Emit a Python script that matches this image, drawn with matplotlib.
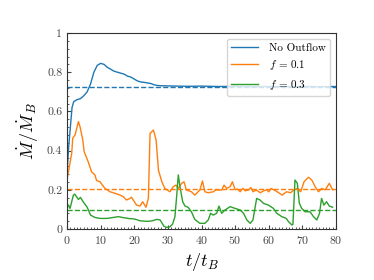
import matplotlib
matplotlib.use('Agg')
import matplotlib.pyplot as plt
from matplotlib.ticker import MultipleLocator

plt.rcParams['font.family'] = 'serif'
plt.rcParams['font.serif'] = ['cmr10']
plt.rcParams['mathtext.fontset'] = 'cm'
plt.rcParams['axes.formatter.use_mathtext'] = True
plt.rcParams['axes.unicode_minus'] = False

# No outflow
t_blue = [0, 0.5, 1, 1.5, 2, 3, 4, 5, 6, 7, 8, 9, 10, 11, 12, 13, 14, 15, 16, 17,
          18, 19, 20, 21, 22, 23, 24, 25, 26, 27, 28, 30, 33, 36, 40, 45, 50, 55,
          60, 65, 70, 75, 80]
m_blue = [0.28, 0.42, 0.52, 0.62, 0.65, 0.66, 0.665, 0.68, 0.70, 0.74, 0.80, 0.835,
          0.845, 0.84, 0.825, 0.815, 0.805, 0.80, 0.795, 0.79, 0.78, 0.775, 0.765,
          0.755, 0.75, 0.748, 0.745, 0.742, 0.735, 0.732, 0.731, 0.73, 0.729, 0.728,
          0.729, 0.727, 0.728, 0.726, 0.727, 0.726, 0.727, 0.726, 0.727]

# f = 0.1
t_orange = [0, 1.4, 1.7, 2.4, 3.4, 3.9, 4.7, 5.1, 6.3, 7.3, 8.3, 8.8, 9.8, 11.3, 12.8,
            14.3, 15.8, 16.7, 17.7, 18.6, 19.2, 19.7, 20.7, 21.7, 22.5, 23.5, 24.2,
            24.7, 25.7, 26.5, 27.2, 28.2, 29.1, 30.6, 31.6, 32.4, 33.1, 34.1, 34.8,
            35.5, 37.0, 38.0, 39.5, 40.3, 41.0, 42.0, 43.5, 44.3, 45.0, 46.0, 46.7,
            47.5, 48.5, 49.2, 50.0, 50.7, 51.5, 52.3, 53.0, 54.0, 54.7, 55.3, 56.3,
            57.5, 58.5, 59.3, 60.0, 60.7, 61.5, 62.5, 64.0, 65.3, 66.5, 67.5, 68.5,
            69.5, 70.5, 71.8, 72.8, 73.8, 74.8, 75.8, 76.8, 78.0, 79.0]
m_orange = [0.25, 0.386, 0.463, 0.48, 0.548, 0.52, 0.454, 0.395, 0.343, 0.292, 0.276,
            0.247, 0.241, 0.207, 0.19, 0.182, 0.173, 0.165, 0.148, 0.155, 0.162, 0.148,
            0.122, 0.117, 0.139, 0.111, 0.156, 0.488, 0.505, 0.454, 0.30, 0.241, 0.207,
            0.19, 0.216, 0.224, 0.207, 0.233, 0.241, 0.199, 0.19, 0.173, 0.199, 0.245,
            0.19, 0.185, 0.19, 0.20, 0.199, 0.199, 0.224, 0.207, 0.216, 0.241, 0.20,
            0.204, 0.19, 0.207, 0.195, 0.199, 0.212, 0.19, 0.199, 0.185, 0.195, 0.20,
            0.19, 0.207, 0.20, 0.19, 0.173, 0.19, 0.185, 0.199, 0.207, 0.19, 0.241,
            0.264, 0.25, 0.216, 0.19, 0.207, 0.20, 0.233, 0.20]

# f = 0.3
t_green = [0, 0.9, 1.9, 2.3, 3.4, 4.0, 4.8, 6.0, 7.0, 8.3, 9.8, 11.8, 13.8, 15.3, 16.7,
           18.6, 20.1, 21.7, 23.7, 25.2, 26.7, 27.7, 28.8, 29.6, 30.6, 31.4, 32.1,
           32.6, 33.1, 33.6, 34.4, 35.1, 36.0, 37.0, 38.0, 39.5, 41.0, 42.0, 42.7,
           43.5, 44.5, 45.2, 46.0, 47.0, 48.5, 50.0, 51.5, 52.5, 53.5, 54.5, 55.3,
           56.4, 57.4, 58.4, 59.9, 61.4, 62.4, 63.9, 65.2, 65.9, 66.9, 67.2, 67.8,
           68.5, 69.1, 69.8, 70.8, 72.3, 73.3, 74.3, 75.1, 75.7, 76.4, 77.2, 78.0, 79.0]
m_green = [0.131, 0.105, 0.173, 0.178, 0.151, 0.161, 0.139, 0.111, 0.071, 0.059, 0.054,
           0.054, 0.059, 0.063, 0.058, 0.053, 0.051, 0.042, 0.039, 0.041, 0.049, 0.046,
           0.015, 0.008, 0.011, 0.025, 0.063, 0.165, 0.276, 0.216, 0.139, 0.117, 0.111,
           0.088, 0.049, 0.029, 0.029, 0.046, 0.080, 0.071, 0.080, 0.117, 0.080, 0.097,
           0.114, 0.105, 0.097, 0.080, 0.046, 0.029, 0.046, 0.156, 0.148, 0.131, 0.122,
           0.105, 0.080, 0.063, 0.054, 0.037, 0.020, 0.025, 0.25, 0.233, 0.131, 0.105,
           0.088, 0.088, 0.063, 0.046, 0.080, 0.156, 0.122, 0.139, 0.117, 0.111]

mean_blue = 0.724
mean_orange = 0.205
mean_green = 0.095

fig = plt.figure(figsize=(3.74, 2.8), dpi=100)
ax = fig.add_axes([67 / 374, 1 - 229 / 280, 269 / 374, 196 / 280])

ax.plot(t_blue, m_blue, color='C0', lw=1.0, label='No Outflow')
ax.plot(t_orange, m_orange, color='C1', lw=1.0, label=r'$f\,=\,0.1$')
ax.plot(t_green, m_green, color='C2', lw=1.0, label=r'$f\,=\,0.3$')
ax.axhline(mean_blue, color='C0', ls='--', lw=1.0)
ax.axhline(mean_orange, color='C1', ls='--', lw=1.0)
ax.axhline(mean_green, color='C2', ls='--', lw=1.0)

ax.set_xlim(0, 80)
ax.set_ylim(0, 1)
ax.xaxis.set_major_locator(MultipleLocator(10))
ax.xaxis.set_minor_locator(MultipleLocator(1))
ax.yaxis.set_minor_locator(MultipleLocator(0.04))
ax.set_yticks([0, 0.2, 0.4, 0.6, 0.8, 1])
ax.set_yticklabels(['0', '0.2', '0.4', '0.6', '0.8', '1'])
ax.tick_params(which='both', direction='in', labelsize=8.5, colors='#444444')
ax.tick_params(which='major', length=3)
ax.tick_params(which='minor', length=1.5)
for s in ax.spines.values():
    s.set_color('#333333')

ax.set_xlabel('$t/t_B$', fontsize=13)
ax.set_ylabel(r'$\dot M/\dot M_B$', fontsize=13)
ax.legend(loc='upper right', fontsize=8, framealpha=0.8,
          handlelength=2.4, handletextpad=1.0)

fig.savefig('out.png', dpi=100)
